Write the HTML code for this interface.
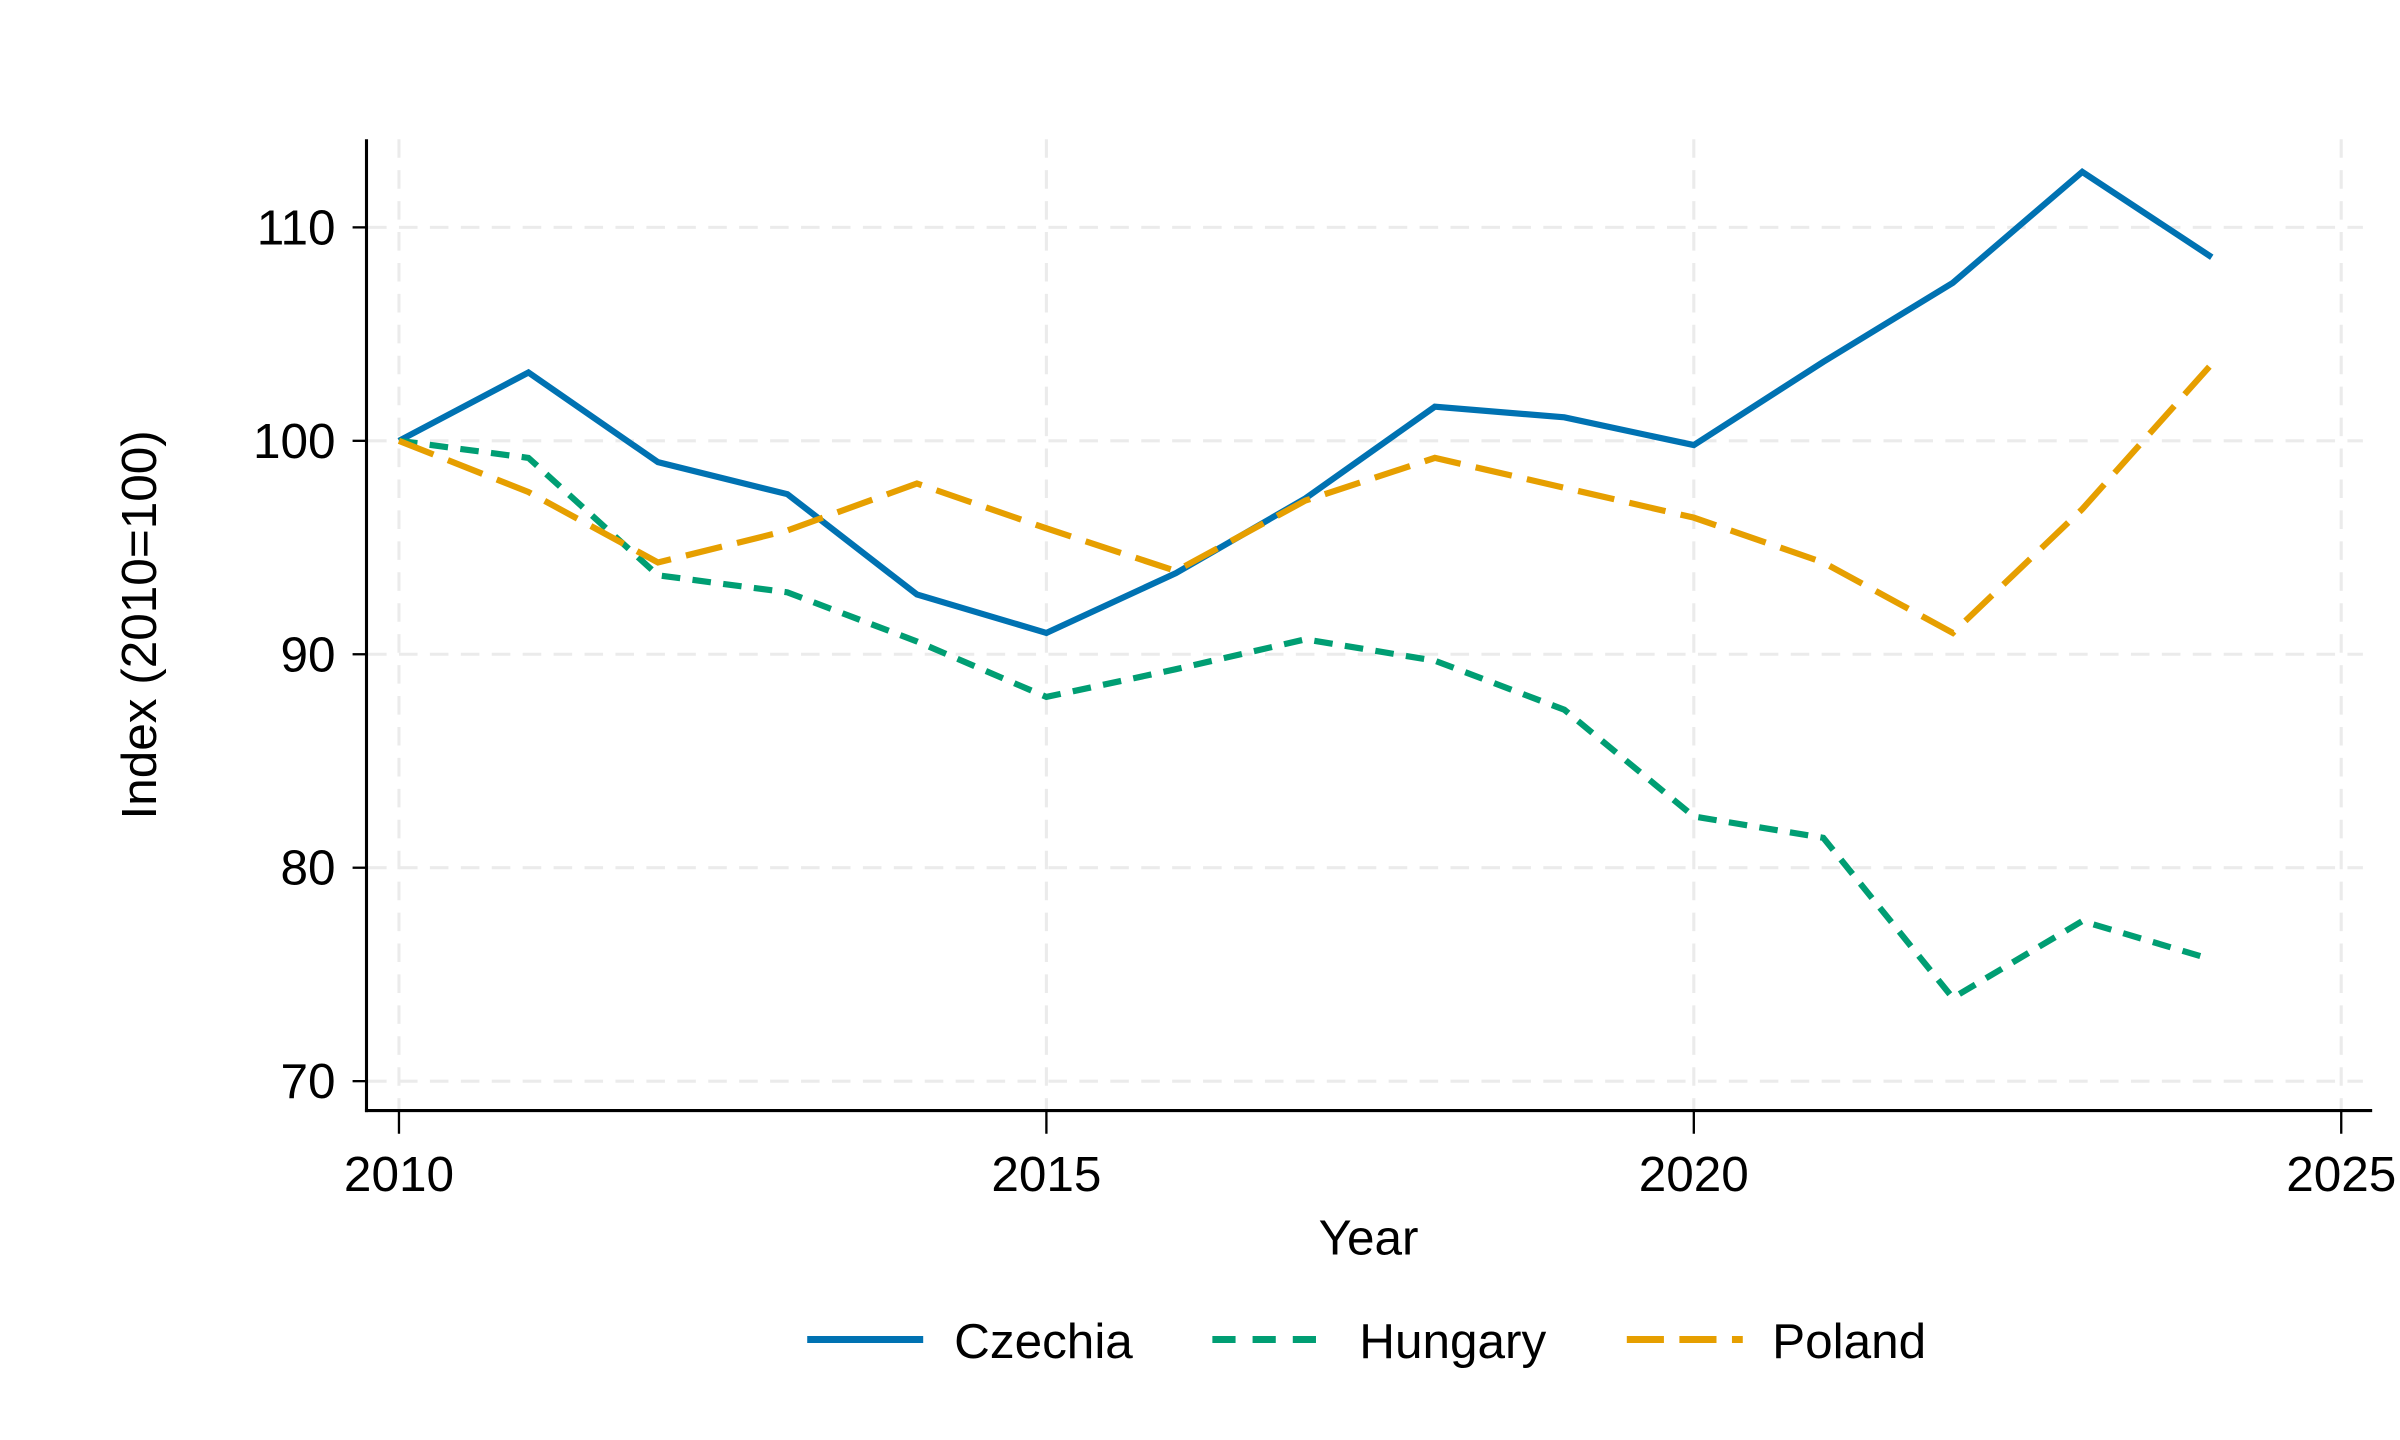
<!DOCTYPE html>
<html><head><meta charset="utf-8"><style>
html,body{margin:0;padding:0;background:#fff;}
svg{display:block;font-family:"Liberation Sans",Arial,sans-serif;}
</style></head><body>
<svg id="chart" width="2400" height="1440" viewBox="0 0 1552 931" preserveAspectRatio="none" xmlns="http://www.w3.org/2000/svg">
<g id="grid"></g>
<g id="axes"></g>
<g id="series"></g>
<g id="legend"></g>
</svg>
<script>
const years = [2010,2011,2012,2013,2014,2015,2016,2017,2018,2019,2020,2021,2022,2023,2024];
const czechia = [100,103.2,99.0,97.5,92.8,91.0,93.8,97.3,101.6,101.1,99.8,103.7,107.4,112.6,108.6];
const hungary = [100,99.2,93.7,92.9,90.6,88.0,89.3,90.7,89.7,87.4,82.4,81.4,73.9,77.5,75.7];
const poland = [100,97.6,94.3,95.8,98.0,95.9,93.9,97.2,99.2,97.8,96.4,94.3,91.0,96.8,103.6];
const xTicks = [2010,2015,2020,2025];
const yTicks = [70,80,90,100,110];
const seriesNames = ["Czechia","Hungary","Poland"];

const NS="http://www.w3.org/2000/svg";
const X = v => 258 + (v-2010)*(1514-258)/15;
const Y = v => 699 - (v-70)*(699-147)/40;
function mk(tag, attrs, parent){const e=document.createElementNS(NS,tag);for(const k in attrs)e.setAttribute(k,attrs[k]);parent.appendChild(e);return e;}
const grid=document.getElementById('grid'), axes=document.getElementById('axes'), ser=document.getElementById('series'), leg=document.getElementById('legend');

yTicks.forEach(t=>{
  const l=mk('line',{x1:238,x2:1528,y1:Y(t),y2:Y(t),stroke:'#ebebeb','stroke-width':2,'stroke-dasharray':'12 8'},grid);
  
  
  const tk=mk('line',{x1:228,x2:237,y1:Y(t),y2:Y(t),stroke:'#000','stroke-width':1.5},axes);
  
  
  const tx=mk('text',{x:217,y:Y(t)+11,'text-anchor':'end','font-size':32,fill:'#000'},axes);
  tx.textContent=t;
  
  
});
xTicks.forEach(t=>{
  const l=mk('line',{x1:X(t),x2:X(t),y1:90,y2:717,stroke:'#ebebeb','stroke-width':2,'stroke-dasharray':'12 8'},grid);
  
  
  const tk=mk('line',{x1:X(t),x2:X(t),y1:718,y2:733,stroke:'#000','stroke-width':1.5},axes);
  
  
  const tx=mk('text',{x:X(t),y:770,'text-anchor':'middle','font-size':32,fill:'#000'},axes);
  tx.textContent=t;
  
  
});
const ya=mk('line',{x1:237,x2:237,y1:90,y2:719,stroke:'#000','stroke-width':2},axes);


const xa=mk('line',{x1:236,x2:1534,y1:718,y2:718,stroke:'#000','stroke-width':2},axes);


const xt=mk('text',{x:885,y:811,'text-anchor':'middle','font-size':32,fill:'#000'},axes);
xt.textContent='Year';


const yt=mk('text',{x:0,y:0,'text-anchor':'middle','font-size':32,fill:'#000',transform:'translate(101,404) rotate(-90)'},axes);
yt.textContent='Index (2010=100)';



const styles=[{c:'#0072b2',d:'none'},{c:'#009e73',d:'12 8'},{c:'#e69f00',d:'24 10'}];
[czechia,hungary,poland].forEach((vals,i)=>{
  const pts=vals.map((v,j)=>X(years[j])+','+Y(v)).join(' ');
  const p=mk('polyline',{points:pts,fill:'none',stroke:styles[i].c,'stroke-width':4,'stroke-dasharray':styles[i].d,'stroke-linejoin':'miter'},ser);
  
  
});
const legX=[522,784,1052], legTx=[617,879,1146];
seriesNames.forEach((n,i)=>{
  const g=mk('g',{},leg);
  
  
  mk('line',{x1:legX[i],x2:legX[i]+75,y1:866,y2:866,stroke:styles[i].c,'stroke-width':4.5,'stroke-dasharray':i==1?'15 11':(i==2?'24 10':'none')},g);
  const t=mk('text',{x:legTx[i],y:878,'font-size':32,fill:'#000'},g);
  t.textContent=n;
});
</script>
</body></html>
